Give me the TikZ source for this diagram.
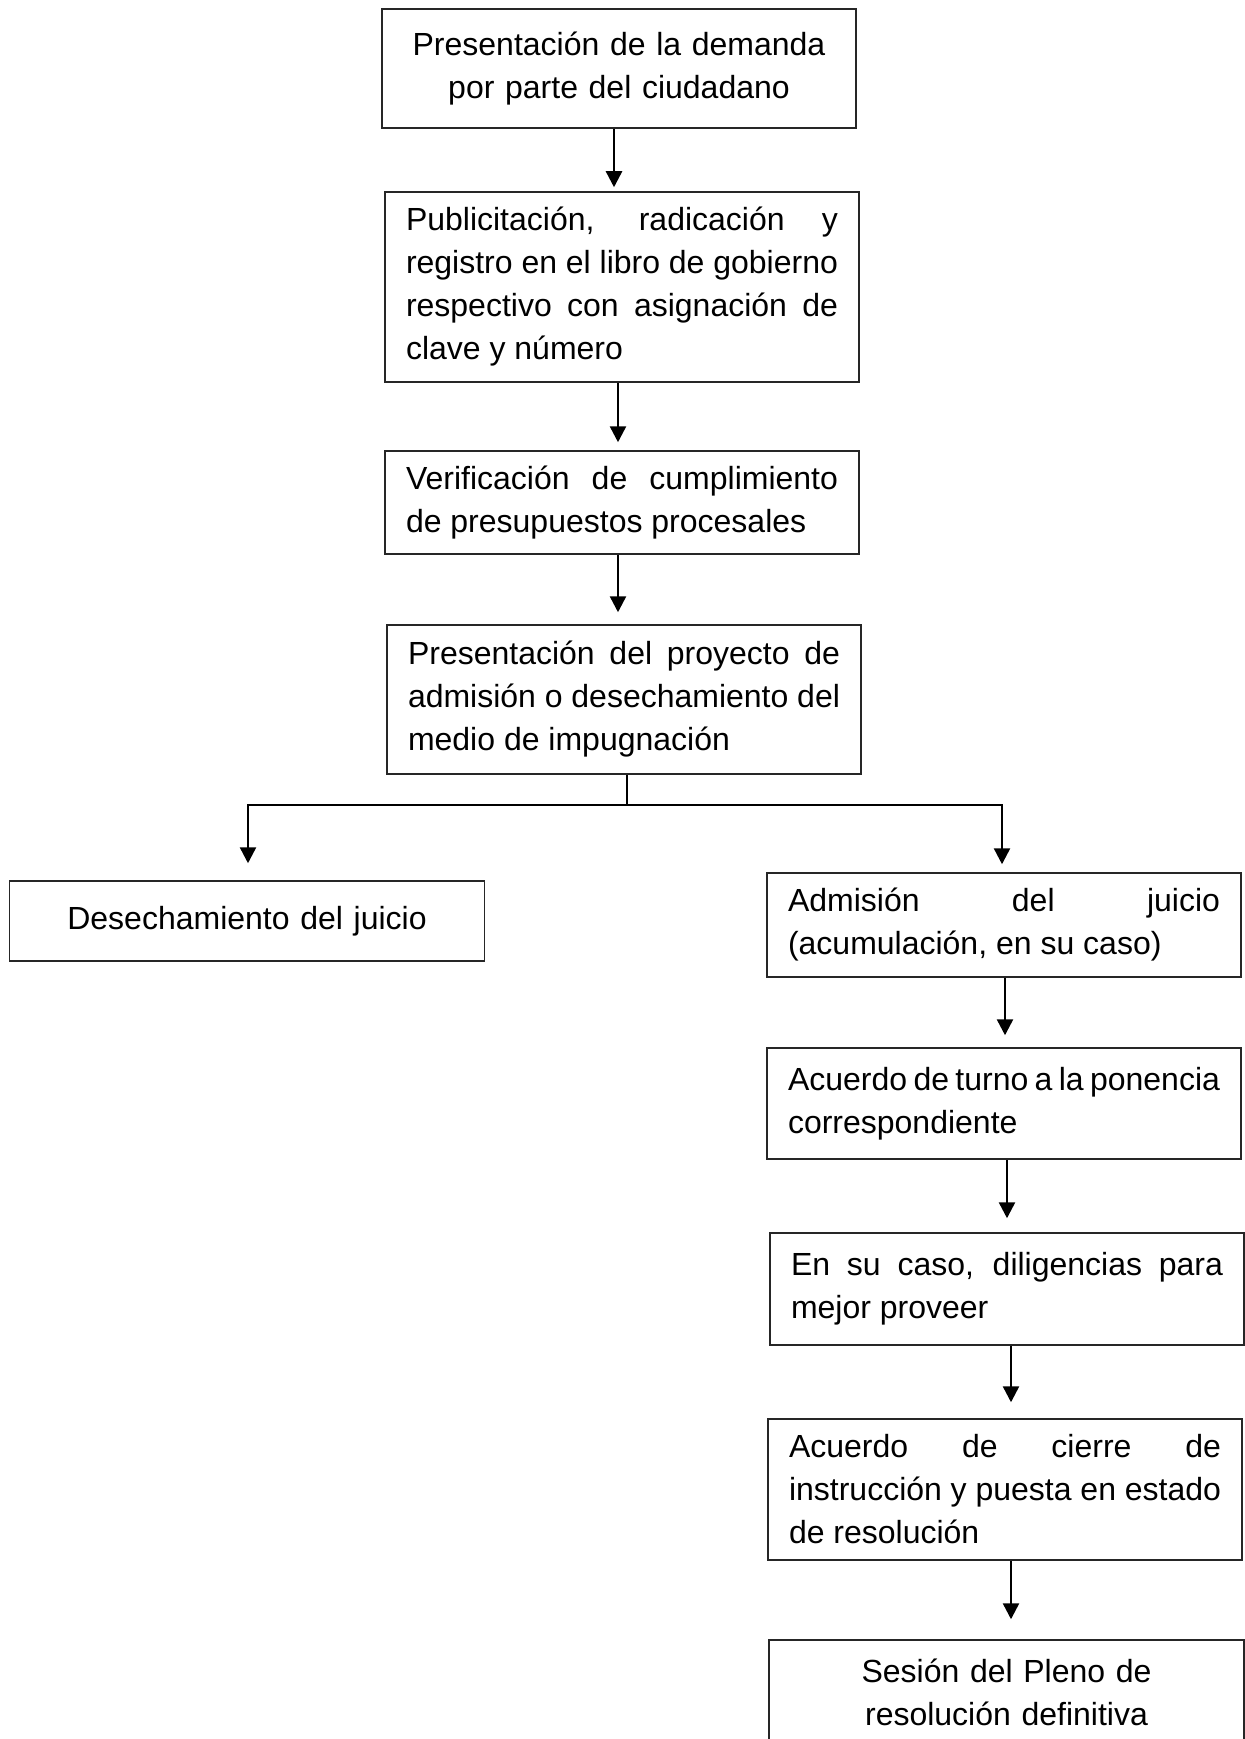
\documentclass[tikz,border=0pt]{standalone}
\usepackage{fontspec}
\setmainfont{Liberation Sans}
\usetikzlibrary{arrows.meta,calc}
\hyphenpenalty=10000
\exhyphenpenalty=10000
\tolerance=9999
\begin{document}
\begin{tikzpicture}[x=0.5pt,y=-0.5pt,
  box/.style={draw=black!85,line width=0.75pt,inner sep=0pt,
    minimum width=237pt,text width=216pt,
    font=\fontsize{16pt}{21.5pt}\selectfont},
  jbox/.style={box,align=justify},
  cbox/.style={box,align=center},
  arr/.style={line width=1.25pt,-{Triangle[width=8pt,length=8pt]}},
  plain/.style={line width=1.25pt}]
\fill[white] (0,0) rectangle (1245,1739);
\useasboundingbox (0,0) rectangle (1245,1739);
\clip (0,0) rectangle (1245,1739);

\node[cbox,minimum height=59.5pt] (B1) at (619,68.5)
  {Presentación de la demanda\\por parte del ciudadano};
\node[jbox,minimum height=95pt] (B2) at (622,287)
  {Publicitación, radicación y\linebreak registro en el libro de gobierno\linebreak respectivo con asignación de\linebreak clave y número};
\node[jbox,minimum height=51.5pt] (B3) at (622,502.5)
  {Verificación de cumplimiento\linebreak de presupuestos procesales};
\node[jbox,minimum height=74.5pt] (B4) at (624,699.5)
  {Presentación del proyecto de\linebreak admisión o desechamiento del\linebreak medio de impugnación};
\node[cbox,minimum width=237.5pt,minimum height=40pt] (L) at (247,921)
  {Desechamiento del juicio};
\node[jbox,minimum height=52pt] (A1) at (1004,925)
  {Admisión del juicio\linebreak (acumulación, en su caso)};
\node[jbox,minimum height=55.5pt] (A2) at (1004,1103.5)
  {Acuerdo de turno a la ponencia\linebreak correspondiente};
\node[jbox,minimum height=56pt] (A3) at (1007,1289)
  {En su caso, diligencias para\linebreak mejor proveer};
\node[jbox,minimum height=70.5pt] (A4) at (1005,1489.5)
  {Acuerdo de cierre de\linebreak instrucción y puesta en estado\linebreak de resolución};
\node[cbox,minimum width=237.5pt,minimum height=52.5pt] (A5) at (1006.5,1692.5)
  {Sesión del Pleno de\\resolución definitiva};

\coordinate (x1) at (614,0);
\coordinate (x2) at (618,0);
\coordinate (j) at (627,805);
\coordinate (xl) at (248,0);
\coordinate (xr) at (1002,0);
\coordinate (x5) at (1005,0);
\coordinate (x6) at (1007,0);
\coordinate (x7) at (1011,0);

\draw[arr,shorten >=2pt] (B1.south -| x1) -- (B2.north -| x1);
\draw[arr,shorten >=4pt] (B2.south -| x2) -- (B3.north -| x2);
\draw[arr,shorten >=6pt] (B3.south -| x2) -- (B4.north -| x2);
\draw[plain] (B4.south -| j) -- (j);
\draw[arr,shorten >=8.5pt] (j) -| (L.north -| xl);
\draw[arr,shorten >=4pt] (j) -| (A1.north -| xr);
\draw[arr,shorten >=6pt] (A1.south -| x5) -- (A2.north -| x5);
\draw[arr,shorten >=7pt] (A2.south -| x6) -- (A3.north -| x6);
\draw[arr,shorten >=8pt] (A3.south -| x7) -- (A4.north -| x7);
\draw[arr,shorten >=10pt] (A4.south -| x7) -- (A5.north -| x7);
\end{tikzpicture}
\end{document}
